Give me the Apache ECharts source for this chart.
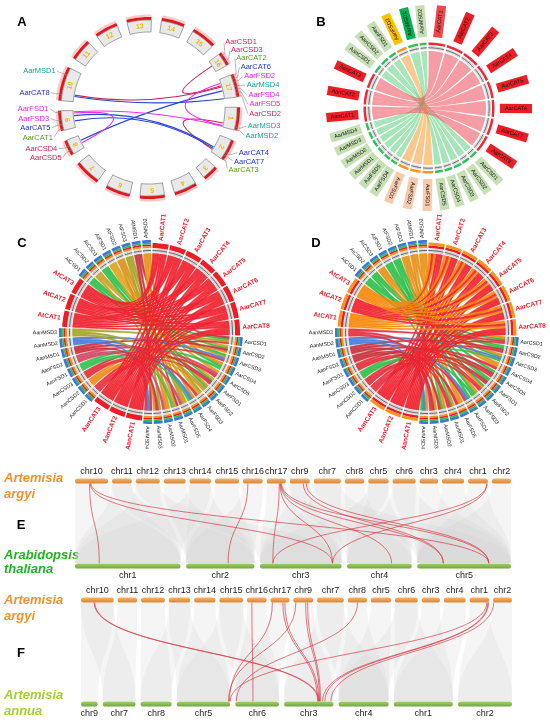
<!DOCTYPE html>
<html>
<head>
<meta charset="UTF-8">
<title>CAT / SOD genes in Artemisia argyi</title>
<script src="https://cdn.jsdelivr.net/npm/echarts@6.0.0/dist/echarts.min.js"></script>
<style>
  body { margin: 0; background: #fff; }
  #chart { width: 550px; height: 725px; }
</style>
</head>
<body>
<div id="chart"></div>
<script>
// ---------------- data ----------------
// A: A. argyi chromosomes on a ring, genes on them and the duplicated pairs
const chrA = ['1','2','3','4','5','6','7','8','9','10','11','12','13','14','15','16','17'];
const chrALen = [15, 14, 10, 15, 16, 16, 17, 10, 13, 22, 14, 15, 16, 15, 16, 9, 15];
const genesA = ['AarCSD1','AarCSD3','AarCAT2','AarCAT6','AarFSD2','AarMSD4','AarFSD4','AarFSD5','AarCSD2',
                'AarMSD3','AarMSD2','AarCAT4','AarCAT7','AarCAT3',
                'AarCSD5','AarCSD4','AarCAT1','AarCAT5','AarFSD3','AarFSD1','AarCAT8','AarMSD1'];
const genesAChr = [16, 16, 17, 17, 17, 17, 17, 17, 17, 1, 1, 2, 2, 2, 8, 8, 9, 9, 9, 9, 10, 10];
const genesAPos = [2, 6, 1, 3, 5, 8, 10, 12, 14.5, 13, 14.5, 9, 11, 13.5, 3, 6, 1, 4, 7, 12, 4, 17];
// [chr, pos, chr, pos, family]
const linksA = [
  [16, 4, 17, 5, 'CSD'], [10, 5, 17, 6, 'CSD'], [1, 12, 2, 12, 'CSD'],
  [10, 4, 17, 15, 'CAT'], [8, 6, 17, 9, 'CAT'], [9, 9, 2, 10, 'CAT'], [9, 5, 2, 11, 'CAT'],
  [17, 3, 1, 14, 'FSD'], [9, 12, 1, 14.5, 'FSD'], [9, 11, 8, 4, 'FSD']
];

// B: A. argyi vs A. annua gene pairs
const genesB = ['AarCAT1','AarCAT2','AarCAT3','AarCAT4','AarCAT5','AarCAT6','AarCAT7','AarCAT8',
                'AarCSD1','AarCSD2','AarCSD3','AarCSD4','AarCSD5','AarFSD1','AarFSD2','AarFSD3','AarFSD4','AarFSD5',
                'AarMSD1','AarMSD2','AarMSD3','AarMSD4',
                'AanCAT1','AanCAT2','AanCAT3','AanCSD1','AanCSD2','AanFSD1','AanFSD2','AanMSD1','AanMSD2'];
const sizesB = [15, 15, 15, 15, 15, 15, 15, 15,
                7, 7, 7, 7, 7, 9.5, 9.5, 9.5, 6, 6,
                6.5, 6.5, 6.5, 6.5,
                13.5, 13.5, 13.5, 7.5, 7.5, 7, 9, 9, 6];
const linksB = [
  ['AanCSD1', ['AarCSD3', 'AarCSD4', 'AarCSD5']],
  ['AanCSD2', ['AarCSD1', 'AarCSD2']],
  ['AanFSD1', ['AarFSD4', 'AarFSD5']],
  ['AanMSD1', ['AarMSD1', 'AarMSD2']],
  ['AanMSD2', ['AarMSD3', 'AarMSD4']],
  ['AanFSD2', ['AarFSD1', 'AarFSD2', 'AarFSD3']],
  ['AanCAT1', ['AarCAT6', 'AarCAT7', 'AarCAT8']],
  ['AanCAT2', ['AarCAT3', 'AarCAT4', 'AarCAT5']],
  ['AanCAT3', ['AarCAT1', 'AarCAT2']]
];

// C, D: A. argyi, A. annua and A. thaliana genes
const genesCD = ['AarCAT1','AarCAT2','AarCAT3','AarCAT4','AarCAT5','AarCAT6','AarCAT7','AarCAT8',
  'AarCSD1','AarCSD2','AarCSD3','AarCSD4','AarCSD5','AarFSD1','AarFSD2','AarFSD3','AarFSD4','AarFSD5',
  'AarMSD1','AarMSD2','AarMSD3','AarMSD4',
  'AanCAT1','AanCAT2','AanCAT3','AanCSD1','AanCSD2','AanCSD3','AanFSD1','AanFSD2','AanMSD1','AanMSD2','AanMSD3',
  'AtCAT1','AtCAT2','AtCAT3','AtCSD1','AtCSD2','AtCSD3','AtFSD1','AtFSD2','AtFSD3','AtMSD1','AtMSD2'];
const sizesCD = [10.5, 10.5, 10.5, 10.5, 10.5, 10.5, 10.5, 10.5,
  5.6, 5.6, 5.6, 5.6, 5.6, 5.6, 5.6, 5.6, 5.6, 5.6, 5.6, 5.6, 5.6, 5.6,
  10.5, 10.5, 10.5, 5.6, 5.6, 5.6, 5.6, 5.6, 5.6, 5.6, 5.6,
  10.5, 10.5, 10.5, 5.6, 5.6, 5.6, 5.6, 5.6, 5.6, 5.6, 5.6];
const aarCAT = ['AarCAT1','AarCAT2','AarCAT3','AarCAT4','AarCAT5','AarCAT6','AarCAT7','AarCAT8'];
const linksCD = [
  ['AtCSD1', ['AarCSD1', 'AarCSD2', 'AarFSD1']],
  ['AtCSD2', ['AarCSD2', 'AarCSD3', 'AarMSD1']],
  ['AtCSD3', ['AarCSD3', 'AarCSD4', 'AarFSD2']],
  ['AtFSD1', ['AarCSD5', 'AarFSD1', 'AarFSD3']],
  ['AtFSD2', ['AarFSD2', 'AarFSD4', 'AarMSD2']],
  ['AtFSD3', ['AarFSD3', 'AarFSD5', 'AarMSD3']],
  ['AtMSD1', ['AarCSD1', 'AarMSD1', 'AarMSD4']],
  ['AtMSD2', ['AarCSD4', 'AarMSD2', 'AarFSD5']],
  ['AanCSD1', ['AarCSD1', 'AarCSD5', 'AarFSD1']],
  ['AanCSD2', ['AarCSD2', 'AarFSD2', 'AarMSD3']],
  ['AanCSD3', ['AarCSD3', 'AarFSD3', 'AarMSD4']],
  ['AanFSD1', ['AarCSD4', 'AarFSD4', 'AarMSD1']],
  ['AanFSD2', ['AarCSD5', 'AarFSD5', 'AarMSD2']],
  ['AanMSD1', ['AarCSD2', 'AarFSD1', 'AarMSD3']],
  ['AanMSD2', ['AarCSD3', 'AarFSD4', 'AarMSD4']],
  ['AanMSD3', ['AarCSD1', 'AarFSD2', 'AarMSD1']],
  ['AanCAT1', aarCAT], ['AanCAT2', aarCAT], ['AanCAT3', aarCAT],
  ['AtCAT1', aarCAT], ['AtCAT2', aarCAT], ['AtCAT3', aarCAT]
];

// E, F: chromosome order and lengths of the three genomes
const argyiChr = ['chr10','chr11','chr12','chr13','chr14','chr15','chr16','chr17','chr9','chr7','chr8','chr5','chr6','chr3','chr4','chr1','chr2'];
const argyiLen = [100, 60, 73, 66, 65, 73, 60, 58, 61, 82, 59, 62, 70, 56, 67, 60, 58];
const athChr = ['chr1','chr2','chr3','chr4','chr5'];
const athLen = [30.4, 19.7, 23.5, 18.6, 27.0];
const annuaChr = ['chr9','chr7','chr8','chr5','chr6','chr3','chr4','chr1','chr2'];
const annuaLen = [50, 98, 93, 160, 131, 148, 150, 177, 162];
// [argyi chr, pos, other chr, pos]
const linksE = [
  ['chr10', 44, 'chr1', 7.0], ['chr10', 46, 'chr3', 20.9], ['chr10', 48, 'chr5', 20.6],
  ['chr16', 15, 'chr2', 12.1],
  ['chr17', 38, 'chr3', 3.7], ['chr17', 40, 'chr3', 20.9], ['chr17', 42, 'chr4', 12.8],
  ['chr17', 43, 'chr5', 7.5], ['chr17', 45, 'chr5', 20.6],
  ['chr9', 41, 'chr5', 7.5], ['chr9', 50, 'chr5', 20.6],
  ['chr1', 57, 'chr3', 3.7], ['chr1', 57, 'chr3', 20.9]
];
const linksF = [
  ['chr10', 40, 'chr3', 103], ['chr10', 42, 'chr3', 106],
  ['chr16', 15, 'chr6', 53],
  ['chr17', 6, 'chr5', 158], ['chr17', 38, 'chr3', 100], ['chr17', 44, 'chr3', 104],
  ['chr9', 8, 'chr5', 155], ['chr9', 38, 'chr3', 106], ['chr9', 44, 'chr3', 109],
  ['chr8', 30, 'chr6', 3],
  ['chr1', 53, 'chr5', 160], ['chr1', 56, 'chr3', 115], ['chr1', 58, 'chr3', 122],
  ['chr2', 2, 'chr3', 140]
];
// background collinear blocks (whole chromosome pairs)
const blocksE = [
  ['chr10','chr1'], ['chr11','chr1'], ['chr12','chr1'], ['chr13','chr2'], ['chr14','chr1'], ['chr15','chr2'],
  ['chr16','chr2'], ['chr17','chr3'], ['chr9','chr3'], ['chr7','chr3'], ['chr8','chr4'], ['chr5','chr4'],
  ['chr6','chr4'], ['chr3','chr5'], ['chr4','chr5'], ['chr1','chr5'], ['chr2','chr5'], ['chr12','chr3'],
  ['chr14','chr2'], ['chr7','chr5'], ['chr5','chr3'], ['chr11','chr2'], ['chr6','chr5'], ['chr9','chr4']
];
const blocksF = [
  ['chr10','chr9'], ['chr10','chr7'], ['chr11','chr7'], ['chr12','chr8'], ['chr13','chr8'], ['chr14','chr5'],
  ['chr15','chr5'], ['chr16','chr6'], ['chr17','chr6'], ['chr9','chr3'], ['chr7','chr3'], ['chr8','chr4'],
  ['chr5','chr4'], ['chr6','chr1'], ['chr3','chr1'], ['chr4','chr1'], ['chr1','chr2'], ['chr2','chr2'],
  ['chr13','chr5'], ['chr7','chr4'], ['chr6','chr4'], ['chr15','chr6']
];

// ---------------- styles ----------------
const FONT = '"Liberation Sans", Arial, Helvetica, sans-serif';
const font = (w, s) => w + ' ' + s + 'px ' + FONT;
const linkColA = { CSD: '#cf2356', CAT: '#2a43d6', FSD: '#ee2eee' };
function colorA(n) {
  if (n.includes('CSD')) return '#d81b55';
  if (n.includes('FSD')) return '#ee1ee6';
  if (n.includes('MSD')) return '#14a394';
  return ['AarCAT1', 'AarCAT2', 'AarCAT3'].includes(n) ? '#5c9e1c' : '#1f35d8';
}
function boxColB(n) {
  if (n.includes('CAT')) return n === 'AarCAT1' ? '#f0474b' : '#ee1c25';
  if (['AarFSD1', 'AarFSD2', 'AarFSD3'].includes(n)) return '#f8cbad';
  if (n === 'AanFSD2') return '#ffc000';
  if (n === 'AanMSD1') return '#00b050';
  return '#c6e0b4';
}
function trackColB(n) {
  if (n.includes('CAT')) return '#ee2a36';
  if (['AarFSD1', 'AarFSD2', 'AarFSD3', 'AanFSD2'].includes(n)) return '#f7941d';
  return '#2fc25b';
}
function ribbonColB(l) {
  if (l.tgt.includes('CAT')) return '#ef4a5a';
  if (['AarFSD1', 'AarFSD2', 'AarFSD3'].includes(l.tgt)) return '#f59a30';
  return '#5ccf7e';
}
const ribColC = { AtCSD1: '#2fbf4a', AtCSD2: '#c9a227', AtCSD3: '#2fbf4a', AtFSD1: '#e0a31e', AtFSD2: '#d9921a',
  AtFSD3: '#a8a428', AtMSD1: '#c8323f', AtMSD2: '#e69119', AanCSD1: '#e4313d', AanCSD2: '#ef8a1d',
  AanCSD3: '#e4313d', AanFSD1: '#33c250', AanFSD2: '#d04a64', AanMSD1: '#c8323f', AanMSD2: '#4a7ed6',
  AanMSD3: '#a8a428' };
const ribColD = { AtCAT1: '#f7890c', AtCAT3: '#f7890c', AtCSD1: '#2fbf4a', AtCSD2: '#2fbf4a', AtCSD3: '#e69119',
  AtFSD1: '#2fbf4a', AtFSD2: '#2fbf4a', AtFSD3: '#e69119', AtMSD1: '#e69119', AtMSD2: '#e69119',
  AanCSD1: '#e4313d', AanCSD2: '#e4313d', AanCSD3: '#2fbf4a', AanFSD1: '#e4313d', AanFSD2: '#c8323f',
  AanMSD1: '#c8323f', AanMSD2: '#4a7ed6', AanMSD3: '#e4313d' };
const smallBands = [[84, 85.8, '#f7941d'], [85.8, 87.5, '#ee1c25'], [87.5, 89.2, '#2bbf4a'], [89.2, 92, '#3a78d8']];
const themeC = { cat: [[84, 89, '#ee1c25']], small: smallBands, rib: ribColC };
const themeD = { cat: [[84, 86.5, '#ee1c25'], [86.5, 89.5, '#f7941d']], small: smallBands, rib: ribColD };

// ---------------- layout helpers ----------------
const sum = a => a.reduce((s, v) => s + v, 0);
function ring(sizes, gap) {
  const off = []; let acc = gap / 2;
  sizes.forEach(s => { off.push(acc); acc += s + gap; });
  return { off, total: acc - gap / 2 };
}
function line(len, gap) {
  const off = []; let acc = 0;
  len.forEach(l => { off.push(acc); acc += l + gap; });
  return { off, total: acc - gap };
}
const layA = ring(chrALen, (360 - sum(chrALen)) / chrALen.length);
const layB = ring(sizesB, 1.7);
const layCD = ring(sizesCD, 1.0);
const layArgyi = line(argyiLen, 11.6);
const layAth = line(athLen, 1.6);
const layAnnua = line(annuaLen, 15.4);

function pt(api, r, a) { const p = api.coord([r, a]); return [p[0], p[1]]; }
function arcPts(api, r, a0, a1) {
  const n = Math.max(2, Math.ceil(Math.abs(a1 - a0) / 1.5) + 1), out = [];
  for (let k = 0; k < n; k++) out.push(pt(api, r, a0 + (a1 - a0) * k / (n - 1)));
  return out;
}
function annulus(api, r0, r1, a0, a1) { return arcPts(api, r1, a0, a1).concat(arcPts(api, r0, a1, a0)); }
// bezier towards the centre; pinch = true uses two handles at the centre (tighter waist)
function toCentre(p0, c, p1, n, pinch) {
  const out = [];
  for (let k = 1; k < n; k++) {
    const t = k / n, u = 1 - t;
    const a = pinch ? u * u * u : u * u, w = pinch ? 3 * u * u * t + 3 * u * t * t : 2 * u * t, b = pinch ? t * t * t : t * t;
    out.push([a * p0[0] + w * c[0] + b * p1[0], a * p0[1] + w * c[1] + b * p1[1]]);
  }
  return out;
}
function screenAngle(api, a) { const c = pt(api, 0, a), p = pt(api, 40, a); return Math.atan2(p[1] - c[1], p[0] - c[0]); }
function radialRot(ang, limit) { return Math.cos(ang) < limit ? { rot: Math.PI - ang, flip: true } : { rot: -ang, flip: false }; }

function chordLinks(names, sizes, lay, adj) {
  const idx = {}; names.forEach((n, i) => { idx[n] = i; });
  const links = [];
  adj.forEach(([s, ts]) => ts.forEach(t => links.push({ src: s, tgt: t, s: idx[s], t: idx[t] })));
  const ends = names.map(() => []);
  links.forEach((l, k) => { ends[l.s].push({ k, key: 'sa', other: l.t }); ends[l.t].push({ k, key: 'ta', other: l.s }); });
  const mid = i => lay.off[i] + sizes[i] / 2;
  ends.forEach((list, i) => {
    const delta = e => (mid(e.other) - mid(i) + lay.total) % lay.total;
    list.sort((a, b) => delta(b) - delta(a));
    const w = sizes[i] / Math.max(1, list.length);
    list.forEach((e, j) => { const a0 = lay.off[i] + j * w; links[e.k][e.key] = [a0, a0 + w]; });
  });
  return links;
}
function ribbonSeries(polarIndex, names, sizes, lay, adj, R, colorOf, opacity, pinch, seam) {
  const links = chordLinks(names, sizes, lay, adj);
  return {
    type: 'custom', coordinateSystem: 'polar', polarIndex, silent: true,
    data: links.map(() => [0, 0]),
    renderItem(params, api) {
      const l = links[params.dataIndex];
      const c = pt(api, 0, 0), col = colorOf(l);
      const s = arcPts(api, R, l.sa[0], l.sa[1]), t = arcPts(api, R, l.ta[0], l.ta[1]);
      const pts = s.concat(toCentre(s[s.length - 1], c, t[0], 30, pinch), t, toCentre(t[t.length - 1], c, s[0], 30, pinch));
      return { type: 'polygon', shape: { points: pts },
        style: { fill: col, opacity, stroke: seam ? col : 'none', lineWidth: seam ? 0.5 : 0 } };
    }
  };
}

// ---------------- panel A ----------------
function clockDeg(api, a) {
  const c = pt(api, 0, a), p = pt(api, 50, a);
  return (Math.atan2(p[0] - c[0], c[1] - p[1]) * 180 / Math.PI + 360) % 360;
}
function spread(items, sep) {
  let groups = items.map(it => ({ m: [it], start: it.want }));
  let changed = true;
  while (changed) {
    changed = false;
    for (let i = 0; i < groups.length - 1; i++) {
      const g = groups[i], h = groups[i + 1];
      if (g.start + g.m.length * sep > h.start) {
        const m = g.m.concat(h.m), mean = sum(m.map(x => x.want)) / m.length;
        groups.splice(i, 2, { m, start: mean - (m.length - 1) * sep / 2 });
        changed = true; break;
      }
    }
  }
  groups.forEach(g => g.m.forEach((it, k) => { it.at = g.start + k * sep; }));
}
let labA = [];
function layoutA(api) {
  const items = genesA.map((g, i) => {
    const a = layA.off[genesAChr[i] - 1] + genesAPos[i];
    return { i, a, want: clockDeg(api, a) };
  });
  spread(items.filter(d => d.want < 180).sort((x, y) => x.want - y.want), 5.5);
  spread(items.filter(d => d.want >= 180).sort((x, y) => x.want - y.want), 5.5);
  const res = []; items.forEach(d => { res[d.i] = d; });
  return res;
}
const seriesA = [
  {
    type: 'custom', coordinateSystem: 'polar', polarIndex: 0, silent: true,
    data: linksA.map(() => [0, 0]),
    renderItem(params, api) {
      const l = linksA[params.dataIndex];
      const p0 = pt(api, 75.5, layA.off[l[0] - 1] + l[1]), p1 = pt(api, 75.5, layA.off[l[2] - 1] + l[3]);
      const c = pt(api, 0, 0);
      return { type: 'bezierCurve', shape: { x1: p0[0], y1: p0[1], x2: p1[0], y2: p1[1], cpx1: c[0], cpy1: c[1] },
        style: { stroke: linkColA[l[4]], lineWidth: 1.1, fill: 'none' } };
    }
  },
  {
    type: 'custom', coordinateSystem: 'polar', polarIndex: 0, silent: true,
    data: chrA.map(() => [0, 0]),
    renderItem(params, api) {
      const i = params.dataIndex, a0 = layA.off[i], a1 = a0 + chrALen[i], m = (a0 + a1) / 2;
      const ang = screenAngle(api, m), p = pt(api, 82, m);
      return { type: 'group', children: [
        { type: 'polygon', shape: { points: annulus(api, 91, 93.5, a0, a1) }, style: { fill: 'rgba(240,70,70,0.28)' } },
        { type: 'polygon', shape: { points: annulus(api, 88, 91, a0, a1) }, style: { fill: '#e8141c' } },
        { type: 'polygon', shape: { points: annulus(api, 76, 88, a0, a1) }, style: { fill: '#e9e9e9', stroke: '#7d7d7d', lineWidth: 0.7 } },
        { type: 'text', x: p[0], y: p[1], rotation: -(ang + Math.PI / 2),
          style: { text: chrA[i], align: 'center', verticalAlign: 'middle', fill: '#f2b705', font: font('bold', 7) } }
      ] };
    }
  },
  {
    type: 'custom', coordinateSystem: 'polar', polarIndex: 0, silent: true,
    data: genesA.map(() => [0, 0]),
    renderItem(params, api) {
      if (params.dataIndex === 0 || !labA.length) labA = layoutA(api);
      const d = labA[params.dataIndex], name = genesA[params.dataIndex];
      const aL = d.a + (d.at - d.want), right = d.want < 180;
      const p0 = pt(api, 88.5, d.a), p1 = pt(api, 93.5, d.a), p2 = pt(api, 99, aL), p3 = pt(api, 100.5, aL);
      return { type: 'group', children: [
        { type: 'polyline', shape: { points: [p0, p1, p2] }, style: { stroke: '#8a8a8a', lineWidth: 0.6, fill: 'none' } },
        { type: 'text', style: { text: name, x: p3[0], y: p3[1], align: right ? 'left' : 'right', verticalAlign: 'middle',
          fill: colorA(name), font: font('normal', 7.5) } }
      ] };
    }
  }
];

// ---------------- panel B ----------------
const seriesB = [
  ribbonSeries(1, genesB, sizesB, layB, linksB, 57, ribbonColB, 0.55, true, false),
  {
    type: 'custom', coordinateSystem: 'polar', polarIndex: 1, silent: true,
    data: genesB.map(() => [0, 0]),
    renderItem(params, api) {
      const i = params.dataIndex, n = genesB[i], a0 = layB.off[i], a1 = a0 + sizesB[i], m = (a0 + a1) / 2;
      const ang = screenAngle(api, m), rr = radialRot(ang, -0.45), pc = pt(api, 87, m);
      return { type: 'group', children: [
        { type: 'polygon', shape: { points: annulus(api, 58.5, 62, a0, a1) }, style: { fill: '#d9d9d9' } },
        { type: 'polyline', shape: { points: arcPts(api, 60.2, a0, a1) }, style: { stroke: '#555', lineWidth: 0.8, fill: 'none' } },
        { type: 'polygon', shape: { points: annulus(api, 63, 65.5, a0, a1) }, style: { fill: trackColB(n) } },
        { type: 'group', x: pc[0], y: pc[1], rotation: rr.rot, children: [
          { type: 'rect', shape: { x: -16, y: -4.6, width: 32, height: 9.2 }, style: { fill: boxColB(n) } },
          { type: 'text', style: { text: n, x: 0, y: 0, align: 'center', verticalAlign: 'middle', fill: '#111', font: font('normal', 5.5) } }
        ] }
      ] };
    }
  }
];

// ---------------- panels C, D ----------------
function cdSeries(polarIndex, theme) {
  const ribCol = l => theme.rib[l.src] || '#ef2330';
  return [
    ribbonSeries(polarIndex, genesCD, sizesCD, layCD, linksCD, 78.5, ribCol, 0.92, false, true),
    {
      type: 'custom', coordinateSystem: 'polar', polarIndex, silent: true,
      data: genesCD.map(() => [0, 0]),
      renderItem(params, api) {
        const i = params.dataIndex, n = genesCD[i], a0 = layCD.off[i], a1 = a0 + sizesCD[i], m = (a0 + a1) / 2;
        const isCat = n.includes('CAT');
        const kids = [
          { type: 'polygon', shape: { points: annulus(api, 79.5, 83.5, a0, a1) }, style: { fill: '#d6d6d6' } },
          { type: 'polyline', shape: { points: arcPts(api, 81.5, a0, a1) }, style: { stroke: '#5a5a5a', lineWidth: 0.9, fill: 'none' } }
        ];
        (isCat ? theme.cat : theme.small).forEach(b => kids.push(
          { type: 'polygon', shape: { points: annulus(api, b[0], b[1], a0, a1) }, style: { fill: b[2] } }));
        const ang = screenAngle(api, m), rr = radialRot(ang, -0.1), p = pt(api, isCat ? 91.5 : 94, m);
        kids.push({ type: 'text', x: p[0], y: p[1], rotation: rr.rot,
          style: { text: n, align: rr.flip ? 'right' : 'left', verticalAlign: 'middle',
            fill: isCat ? '#e8202a' : '#1a1a1a', font: isCat ? font('bold', 6.5) : font('normal', 5.3) } });
        return { type: 'group', children: kids };
      }
    }
  ];
}

// ---------------- panels E, F ----------------
function sCurve(p0, p1, n) {
  const ym = (p0[1] + p1[1]) / 2, out = [];
  for (let k = 0; k <= n; k++) {
    const t = k / n, u = 1 - t;
    out.push([u * u * u * p0[0] + 3 * u * u * t * p0[0] + 3 * u * t * t * p1[0] + t * t * t * p1[0],
              u * u * u * p0[1] + 3 * u * u * t * ym + 3 * u * t * t * ym + t * t * t * p1[1]]);
  }
  return out;
}
function syntenySeries(g, botChr, botLen, botLay, links, blocks, botFill) {
  const xTop = (c, p) => (layArgyi.off[argyiChr.indexOf(c)] + p) / layArgyi.total;
  const xBot = (c, p) => (botLay.off[botChr.indexOf(c)] + p) / botLay.total;
  const base = { type: 'custom', coordinateSystem: 'cartesian2d', xAxisIndex: g, yAxisIndex: g, clip: false, silent: true };
  return [
    Object.assign({}, base, {
      data: blocks.map(() => [0, 0]),
      renderItem(params, api) {
        const b = blocks[params.dataIndex];
        const tl = argyiLen[argyiChr.indexOf(b[0])], bl = botLen[botChr.indexOf(b[1])];
        const t0 = api.coord([xTop(b[0], 0), 1]), t1 = api.coord([xTop(b[0], tl), 1]);
        const b0 = api.coord([xBot(b[1], 0), 0]), b1 = api.coord([xBot(b[1], bl), 0]);
        t0[1] += 3; t1[1] += 3; b0[1] -= 3; b1[1] -= 3;
        const pts = sCurve(t0, b0, 16).concat(sCurve(b1, t1, 16));
        return { type: 'polygon', shape: { points: pts }, style: { fill: 'rgba(210,210,210,0.22)' } };
      }
    }),
    Object.assign({}, base, {
      data: links.map(() => [0, 0]),
      renderItem(params, api) {
        const l = links[params.dataIndex];
        const p0 = api.coord([xTop(l[0], l[1]), 1]), p1 = api.coord([xBot(l[2], l[3]), 0]);
        p0[1] += 2.5; p1[1] -= 2.5;
        const ym = (p0[1] + p1[1]) / 2;
        return { type: 'bezierCurve', shape: { x1: p0[0], y1: p0[1], x2: p1[0], y2: p1[1], cpx1: p0[0], cpy1: ym, cpx2: p1[0], cpy2: ym },
          style: { stroke: '#d8353f', lineWidth: 0.8, opacity: 0.85, fill: 'none' } };
      }
    }),
    Object.assign({}, base, {
      data: argyiChr.concat(botChr).map(() => [0, 0]),
      renderItem(params, api) {
        const i = params.dataIndex, top = i < argyiChr.length, j = top ? i : i - argyiChr.length;
        const name = top ? argyiChr[j] : botChr[j];
        const x0 = top ? xTop(name, 0) : xBot(name, 0), x1 = top ? xTop(name, argyiLen[j]) : xBot(name, botLen[j]);
        const p0 = api.coord([x0, top ? 1 : 0]), p1 = api.coord([x1, top ? 1 : 0]);
        const fill = top ? ['#f9b46c', '#d9822f'] : botFill;
        return { type: 'group', children: [
          { type: 'rect', shape: { x: p0[0], y: p0[1] - 2.6, width: p1[0] - p0[0], height: 5.2, r: 2.6 },
            style: { fill: { type: 'linear', x: 0, y: 0, x2: 0, y2: 1, colorStops: [{ offset: 0, color: fill[0] }, { offset: 1, color: fill[1] }] } } },
          { type: 'text', style: { text: name, x: (p0[0] + p1[0]) / 2, y: p0[1] + (top ? -9 : 10), align: 'center', verticalAlign: 'middle',
            fill: '#1e1e1e', font: font('normal', 9) } }
        ] };
      }
    })
  ];
}

// ---------------- page texts ----------------
const letters = [['A', 22, 22], ['B', 321, 22], ['C', 22, 243], ['D', 316, 243], ['E', 21, 525], ['F', 21, 653]];
const species = [['Artemisia', 478, '#f7922a'], ['argyi', 494, '#f7922a'], ['Arabidopsis', 555, '#1fb51f'], ['thaliana', 569, '#1fb51f'],
                 ['Artemisia', 600, '#f7922a'], ['argyi', 616, '#f7922a'], ['Artemisia', 695, '#a6cf33'], ['annua', 711, '#a6cf33']];
const graphicEls = letters.map(l => ({ type: 'text', x: l[1], y: l[2], silent: true,
  style: { text: l[0], font: font('bold', 13), fill: '#000', align: 'center', verticalAlign: 'middle' } }))
  .concat(species.map(s => ({ type: 'text', x: 4, y: s[1], silent: true,
    style: { text: s[0], font: font('italic bold', 13), fill: s[2], align: 'left', verticalAlign: 'middle' } })));

// ---------------- chart ----------------
const chart = echarts.init(document.getElementById('chart'));
const polarRad = [93, 66, 88, 88];
const option = {
  animation: false,
  backgroundColor: '#fff',
  polar: [
    { center: [149, 108], radius: [0, 93] },
    { center: [429, 108], radius: [0, 66] },
    { center: [151, 332], radius: [0, 88] },
    { center: [427, 332], radius: [0, 88] }
  ],
  radiusAxis: polarRad.map((r, i) => ({ polarIndex: i, type: 'value', min: 0, max: r, show: false })),
  angleAxis: [
    { polarIndex: 0, type: 'value', min: 0, max: layA.total, startAngle: 3.8, show: false },
    { polarIndex: 1, type: 'value', min: 0, max: layB.total, startAngle: 91.3, show: false },
    { polarIndex: 2, type: 'value', min: 0, max: layCD.total, startAngle: 89.5, show: false },
    { polarIndex: 3, type: 'value', min: 0, max: layCD.total, startAngle: 89.5, show: false }
  ],
  grid: [
    { left: 75, right: 39, top: 481, height: 85 },
    { left: 81, right: 38, top: 600, height: 104 }
  ],
  xAxis: [0, 1].map(g => ({ gridIndex: g, type: 'value', min: 0, max: 1, show: false })),
  yAxis: [0, 1].map(g => ({ gridIndex: g, type: 'value', min: 0, max: 1, show: false })),
  graphic: { elements: graphicEls },
  series: [].concat(
    seriesA,
    seriesB,
    cdSeries(2, themeC),
    cdSeries(3, themeD),
    syntenySeries(0, athChr, athLen, layAth, linksE, blocksE, ['#a3d36b', '#6fa53a']),
    syntenySeries(1, annuaChr, annuaLen, layAnnua, linksF, blocksF, ['#a3d36b', '#6fa53a'])
  )
};
chart.setOption(option);
window.addEventListener('resize', function () { chart.resize(); });
</script>
</body>
</html>
